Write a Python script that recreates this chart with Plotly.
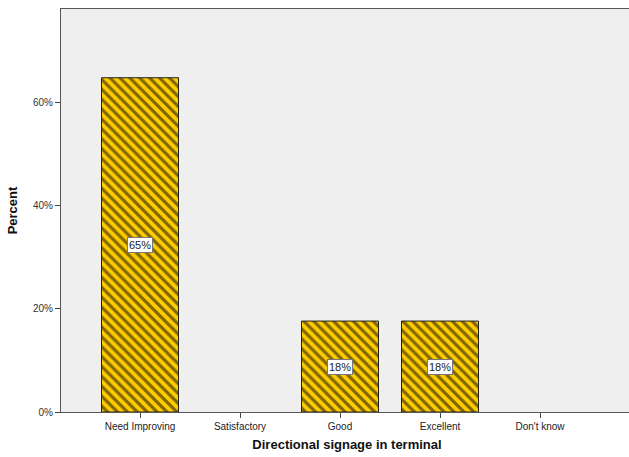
import plotly.graph_objects as go

categories = ["Need Improving", "Satisfactory", "Good", "Excellent", "Don't know"]
percent = [64.7, 0, 17.6, 17.6, 0]
labels = ["65%", "", "18%", "18%", ""]
y_ticks = [0, 20, 40, 60]
y_tick_text = ["0%", "20%", "40%", "60%"]

FONT = "Liberation Sans, Arial, sans-serif"
YELLOW = "#ffcc00"

fig = go.Figure()
fig.add_trace(go.Bar(
    x=list(range(len(categories))),
    y=percent,
    width=0.77,
    marker=dict(
        color=YELLOW,
        line=dict(color="#222", width=[1 if v > 0 else 0 for v in percent]),
        pattern=dict(shape="\\", fgcolor="#000000", bgcolor=YELLOW, size=7, solidity=0.45),
    ),
    hoverinfo="skip",
))

for i, (v, t) in enumerate(zip(percent, labels)):
    if t:
        fig.add_annotation(
            x=i, y=v / 2, text=t, showarrow=False,
            font=dict(family=FONT, size=11, color="#222"),
            bgcolor="white", bordercolor="#777", borderwidth=1, borderpad=1,
        )

fig.update_layout(
    width=633, height=457,
    margin=dict(l=61, r=0, t=9, b=45),
    paper_bgcolor="white",
    plot_bgcolor="#efefef",
    showlegend=False,
    font=dict(family=FONT, size=10, color="#333"),
)
fig.update_xaxes(
    range=[-0.79, 4.93],
    tickmode="array", tickvals=list(range(len(categories))), ticktext=categories,
    ticks="outside", ticklen=5, tickcolor="#444",
    showline=True, linecolor="#555", linewidth=1, mirror=True,
    showgrid=False, zeroline=False,
    tickfont=dict(family=FONT, size=10, color="#222"),
    title=dict(text="<b>Directional signage in terminal</b>", font=dict(family=FONT, size=13, color="#111"), standoff=8),
)
fig.update_yaxes(
    range=[0, 78],
    tickmode="array", tickvals=y_ticks, ticktext=y_tick_text,
    ticks="outside", ticklen=5, tickcolor="#444",
    showline=True, linecolor="#555", linewidth=1, mirror=True,
    showgrid=False, zeroline=False,
    tickfont=dict(family=FONT, size=10, color="#333"),
    title=dict(text="<b>Percent</b>", font=dict(family=FONT, size=13, color="#111"), standoff=12),
)

fig.write_html(
    "out.html",
    config={"displayModeBar": False},
    post_script="document.body.style.margin='0';document.body.style.overflow='hidden';",
)
